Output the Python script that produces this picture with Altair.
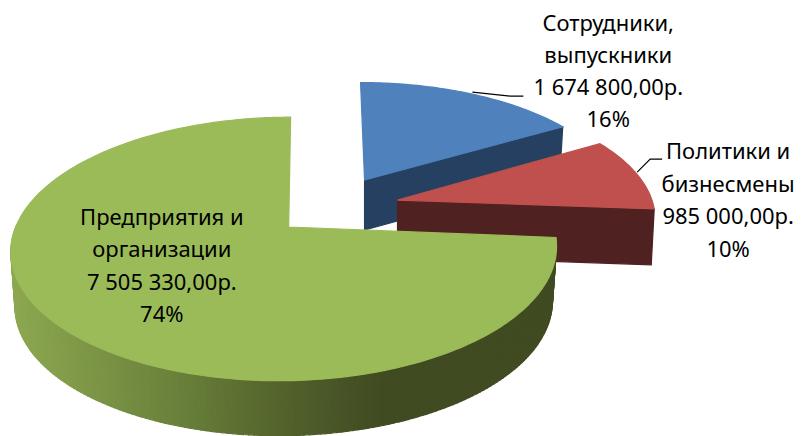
import math
import altair as alt
import pandas as pd

names = ["Сотрудники, выпускники", "Политики и бизнесмены", "Предприятия и организации"]
values = [1674800.0, 985000.0, 7505330.0]
percent = ["16%", "10%", "74%"]
top_colors = ["#4F81BD", "#C0504D", "#9BBB59"]
wall_colors = ["#254061", "#4F2120", None]

label_lines = ["Сотрудники,", "выпускники", "1 674 800,00р.", "16%",
               "Политики и", "бизнесмены", "985 000,00р.", "10%",
               "Предприятия и", "организации", "7 505 330,00р.", "74%"]
label_x = [608, 608, 608, 608, 728, 728, 728, 728, 161, 161, 161, 161]
label_y = [24, 56, 88, 120, 152, 185, 217, 250, 218, 250, 283, 315]

leader_x = [472, 510, 523, None, 637, 650, 662]
leader_y = [92, 96, 96, None, 172, 159, 159]

# green wall shading by screen x
shade_x = [10, 100, 200, 290, 380, 560]
shade_c = [(0x8D, 0xA8, 0x50), (0x7A, 0x93, 0x45), (0x64, 0x7A, 0x37), (0x51, 0x60, 0x2B), (0x40, 0x4B, 0x22), (0x40, 0x4B, 0x22)]


def shade(x):
    for a, b, ca, cb in zip(shade_x, shade_x[1:], shade_c, shade_c[1:]):
        if x <= b:
            t = max(0, (x - a) / (b - a))
            return "#%02x%02x%02x" % tuple(round(p + (q - p) * t) for p, q in zip(ca, cb))
    return "#404b22"


total = sum(values)
K = 0.159
RX, RY = 271, 128.6


def rim(theta, cx, cy, s, sy, sx):
    w = 1 + K * math.cos(theta)
    return (cx + s * RX * math.sin(theta) / w + sx * math.cos(theta),
            cy - sy * RY * math.cos(theta) / w)


geom = [dict(apex=(364, 180), c=(364, 180), s=0.93, sy=0.88, sx=-4, h=50),
        dict(apex=(397, 200), c=(397, 200), s=0.94, sy=0.93, sx=0, h=56),
        dict(apex=(288, 227), c=(284, 228), s=0.995, sy=1.0, sx=6, h=55)]

layers_data = []
start = 0.0
for k, v in enumerate(values):
    sweep = v / total * 2 * math.pi
    g = geom[k]
    n = max(8, int(sweep * 180 / math.pi))
    ths = [start + sweep * i / n for i in range(n + 1)]
    pts = [rim(t, *g["c"], g["s"], g["sy"], g["sx"]) for t in ths]
    wall = []
    if wall_colors[k]:
        # front radial wall
        a = g["apex"]
        p = pts[-1]
        poly = [a, p, (p[0] - 3, p[1] + g["h"]), (a[0], a[1] + g["h"])]
        for i, q in enumerate(poly):
            wall.append(dict(x=q[0], y=q[1], i=i, id=f"w{k}", c=wall_colors[k]))
    else:
        low = lambda pt: (g["c"][0] + (pt[0] - g["c"][0]) * 0.985, pt[1] + g["h"])
        for j in range(n):
            if pts[j][1] < 225 and j > 0:
                continue
            p, q = pts[j], pts[j + 1]
            c = shade((p[0] + q[0]) / 2)
            poly = [p, q, low(q), low(p)]
            for i, r in enumerate(poly):
                wall.append(dict(x=r[0], y=r[1], i=i, id=f"w{k}_{j}", c=c))
    face = [dict(x=g["apex"][0], y=g["apex"][1], i=0, id=f"f{k}", c=top_colors[k])]
    for i, q in enumerate(pts):
        face.append(dict(x=q[0], y=q[1], i=i + 1, id=f"f{k}", c=top_colors[k]))
    layers_data.append(wall)
    layers_data.append(face)
    start += sweep

xs = alt.Scale(domain=[8, 795], range=[0, 787])
ys = alt.Scale(domain=[8, 436], range=[0, 428])
X = alt.X("x:Q", scale=xs, axis=None)
Y = alt.Y("y:Q", scale=ys, axis=None)


def poly_layer(rows):
    return alt.Chart(pd.DataFrame(rows)).mark_line(
        interpolate="linear-closed", filled=True, strokeWidth=1.2
    ).encode(x=X, y=Y, order="i:Q", detail="id:N",
             fill=alt.Fill("c:N", scale=None), stroke=alt.Stroke("c:N", scale=None))


layers = [poly_layer(r) for r in layers_data]

leaders = []
seg = 0
for x, y in zip(leader_x, leader_y):
    if x is None:
        seg += 1
        continue
    leaders.append(dict(x=x, y=y, s=seg))
layers.append(alt.Chart(pd.DataFrame(leaders)).mark_line(color="black", strokeWidth=1.2).encode(
    x=X, y=Y, detail="s:N"))

texts = pd.DataFrame(dict(x=label_x, y=label_y, t=label_lines))
layers.append(alt.Chart(texts).mark_text(
    font="Noto Sans", fontSize=22, color="black", align="center", baseline="middle"
).encode(x=X, y=Y, text="t:N"))

chart = alt.layer(*layers).properties(width=787, height=428, padding=0).configure_view(stroke=None)
chart.save("out.html", embed_options={"renderer": "svg", "actions": False})
